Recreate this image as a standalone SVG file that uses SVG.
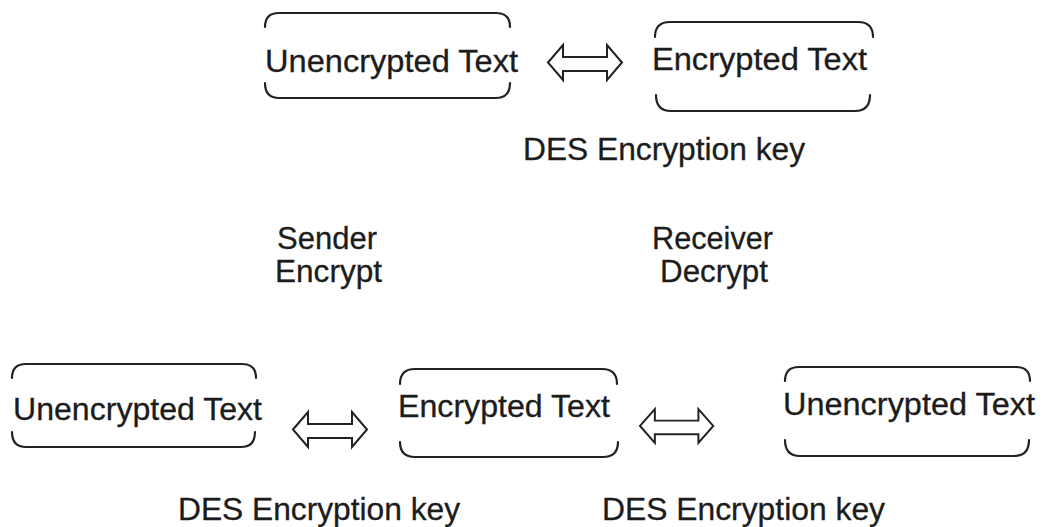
<svg xmlns="http://www.w3.org/2000/svg" xmlns:xlink="http://www.w3.org/1999/xlink" width="1042" height="527" viewBox="0 0 1042 527">
<style>
.br{fill:none;stroke:#222;stroke-width:2.2;stroke-linecap:round}
.t{font-family:"Liberation Sans",Arial,sans-serif;font-size:31px;fill:#1c1c1c;stroke:#1c1c1c;stroke-width:0.3}
.ar{fill:#fff;stroke:#222;stroke-width:2;stroke-linejoin:miter}
</style>
<defs>
<path id="dblarrow" class="ar" d="M0,17.5 L15,0 L15,12 L59,12 L59,0 L74,17.5 L59,35 L59,26 L15,26 L15,35 Z"/>
</defs>
<rect width="1042" height="527" fill="#fff"/>

<g id="node-top-plain">
<path class="br" d="M265,27 Q265,13 279,13 H496 Q510,13 510,27"/>
<path class="br" d="M265,83 Q265,98 279,98 H496 Q510,98 510,83"/>
<text class="t" x="265" y="72" textLength="253" lengthAdjust="spacingAndGlyphs">Unencrypted Text</text>
</g>

<g id="node-top-cipher">
<path class="br" d="M655,37 Q655,22 670,22 H858 Q873,22 873,37"/>
<path class="br" d="M656,95 Q656,111 671,111 H855 Q870,111 870,95"/>
<text class="t" x="652" y="70" textLength="215" lengthAdjust="spacingAndGlyphs">Encrypted Text</text>
</g>

<g id="label-top-key">
<text class="t" x="523" y="160" textLength="282" lengthAdjust="spacingAndGlyphs">DES Encryption key</text>
</g>

<g id="label-sender">
<text class="t" x="277" y="249" textLength="100" lengthAdjust="spacingAndGlyphs">Sender</text>
<text class="t" x="275" y="282" textLength="107" lengthAdjust="spacingAndGlyphs">Encrypt</text>
</g>

<g id="label-receiver">
<text class="t" x="652" y="249" textLength="121" lengthAdjust="spacingAndGlyphs">Receiver</text>
<text class="t" x="660" y="282" textLength="108" lengthAdjust="spacingAndGlyphs">Decrypt</text>
</g>

<g id="node-bottom-plain-left">
<path class="br" d="M12,378 Q12,364 26,364 H242 Q256,364 256,378"/>
<path class="br" d="M12,432 Q12,447 26,447 H241 Q255,447 255,432"/>
<text class="t" x="13" y="420" textLength="249" lengthAdjust="spacingAndGlyphs">Unencrypted Text</text>
</g>

<g id="node-bottom-cipher">
<path class="br" d="M400,384 Q400,369 415,369 H602 Q617,369 617,384"/>
<path class="br" d="M400,442 Q400,457 415,457 H603 Q618,457 618,442"/>
<text class="t" x="398" y="417" textLength="212" lengthAdjust="spacingAndGlyphs">Encrypted Text</text>
</g>

<g id="node-bottom-plain-right">
<path class="br" d="M785,381 Q785,367 799,367 H1016 Q1030,367 1030,381"/>
<path class="br" d="M785,440 Q785,456 800,456 H1014 Q1029,456 1029,440"/>
<text class="t" x="783" y="415" textLength="252" lengthAdjust="spacingAndGlyphs">Unencrypted Text</text>
</g>

<g id="label-bottom-keys">
<text class="t" x="178" y="520" textLength="282" lengthAdjust="spacingAndGlyphs">DES Encryption key</text>
<text class="t" x="602" y="520" textLength="283" lengthAdjust="spacingAndGlyphs">DES Encryption key</text>
</g>

<g id="connectors">
<use xlink:href="#dblarrow" href="#dblarrow" transform="translate(548,45)"/>
<use xlink:href="#dblarrow" href="#dblarrow" transform="translate(293,412)"/>
<use xlink:href="#dblarrow" href="#dblarrow" transform="translate(640,409) scale(0.99,0.97)"/>
</g>
</svg>
